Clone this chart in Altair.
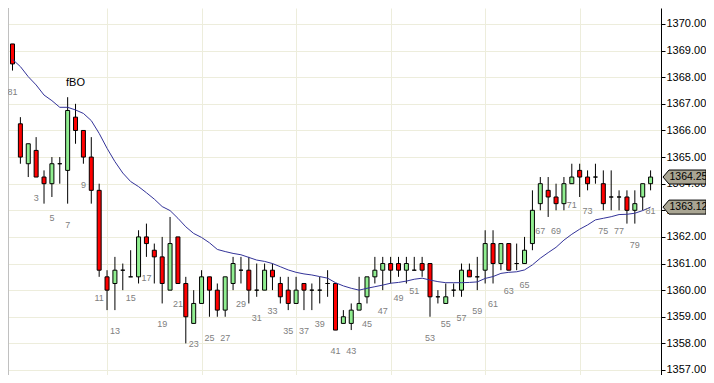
import altair as alt
import pandas as pd

bar_index = list(range(82))

opens = [1369.25, 1366.25, 1364.75, 1365.25, 1364.25, 1364.0, 1364.75, 1364.5, 1366.5, 1366.0,
         1365.0, 1363.75, 1360.5, 1360.25, 1360.75, 1360.5, 1360.5, 1362.0, 1361.5, 1361.25,
         1360.0, 1362.0, 1360.25, 1358.75, 1359.5, 1360.5, 1360.0, 1359.25, 1360.25, 1360.75,
         1360.75, 1360.0, 1360.0, 1360.75, 1360.25, 1360.0, 1359.5, 1360.25, 1360.0, 1360.0,
         1360.25, 1360.25, 1358.75, 1358.75, 1359.25, 1359.75, 1360.5, 1360.75, 1361.0, 1361.0,
         1360.75, 1360.75, 1361.0, 1361.0, 1359.75, 1359.5, 1360.0, 1360.0, 1360.75, 1360.5,
         1360.75, 1361.75, 1361.0, 1361.75, 1361.0, 1361.0, 1361.75, 1363.25, 1363.75, 1363.5,
         1363.25, 1364.0, 1364.5, 1364.25, 1364.25, 1364.0, 1363.5, 1363.5, 1363.5, 1363.0,
         1363.5, 1364.0]

highs = [1369.25, 1366.5, 1365.5, 1365.75, 1364.5, 1365.0, 1365.0, 1367.25, 1367.0, 1366.0,
         1365.75, 1364.0, 1360.75, 1361.25, 1361.0, 1361.5, 1362.25, 1362.5, 1361.75, 1362.0,
         1362.75, 1362.0, 1360.5, 1360.0, 1360.75, 1360.5, 1360.25, 1360.5, 1361.25, 1361.25,
         1361.25, 1361.0, 1361.0, 1361.0, 1360.5, 1360.5, 1360.5, 1360.25, 1360.25, 1360.5,
         1360.75, 1360.25, 1359.25, 1359.5, 1360.5, 1360.5, 1361.25, 1361.25, 1361.25, 1361.25,
         1361.25, 1361.25, 1361.25, 1361.0, 1360.0, 1360.25, 1360.25, 1361.0, 1361.0, 1361.25,
         1362.25, 1362.25, 1361.75, 1361.75, 1361.75, 1362.0, 1363.75, 1364.25, 1364.25, 1364.0,
         1364.25, 1364.75, 1364.75, 1364.5, 1364.75, 1364.5, 1364.5, 1363.75, 1363.75, 1363.75,
         1364.0, 1364.5]

lows = [1368.25, 1364.75, 1364.25, 1364.25, 1363.25, 1363.5, 1364.0, 1363.25, 1365.5, 1364.75,
        1363.25, 1360.5, 1359.25, 1359.25, 1360.0, 1360.5, 1360.25, 1361.25, 1360.25, 1359.5,
        1360.0, 1360.25, 1358.0, 1358.75, 1359.5, 1359.0, 1359.0, 1359.0, 1360.0, 1360.25,
        1359.5, 1359.75, 1360.0, 1360.0, 1359.5, 1359.25, 1359.5, 1359.25, 1359.25, 1359.5,
        1359.75, 1358.5, 1358.75, 1358.5, 1359.25, 1359.5, 1360.25, 1360.0, 1360.25, 1360.5,
        1360.25, 1360.75, 1360.5, 1359.0, 1359.5, 1359.5, 1359.75, 1359.75, 1360.5, 1360.0,
        1360.25, 1360.25, 1360.75, 1360.75, 1360.75, 1361.0, 1361.5, 1363.0, 1362.75, 1363.0,
        1363.0, 1364.0, 1363.5, 1363.75, 1364.0, 1363.0, 1363.0, 1363.0, 1362.5, 1362.5,
        1363.0, 1363.75]

closes = [1368.5, 1365.0, 1365.5, 1364.25, 1364.0, 1364.75, 1364.75, 1366.75, 1366.0, 1365.0,
          1363.75, 1360.75, 1360.0, 1360.75, 1360.75, 1360.5, 1362.0, 1361.75, 1361.25, 1360.25,
          1361.75, 1360.25, 1359.0, 1359.5, 1360.5, 1360.0, 1359.25, 1360.5, 1361.0, 1360.75,
          1360.0, 1360.0, 1360.75, 1360.5, 1359.75, 1359.5, 1360.0, 1360.0, 1360.0, 1360.0,
          1360.25, 1358.5, 1359.0, 1359.25, 1359.5, 1360.5, 1360.75, 1361.0, 1360.75, 1360.75,
          1361.0, 1360.75, 1360.75, 1359.75, 1359.75, 1359.75, 1360.0, 1360.75, 1360.5, 1360.5,
          1361.75, 1361.0, 1361.75, 1360.75, 1361.0, 1361.5, 1363.0, 1364.0, 1363.5, 1363.25,
          1364.0, 1364.25, 1364.25, 1364.0, 1364.25, 1363.25, 1363.5, 1363.5, 1363.0, 1363.25,
          1364.0, 1364.25]

ma = [1368.67, 1368.40, 1368.02, 1367.71, 1367.33, 1367.12, 1366.87, 1366.87, 1366.77, 1366.64,
      1366.37, 1365.89, 1365.33, 1364.83, 1364.40, 1364.08, 1363.89, 1363.66, 1363.42, 1363.14,
      1362.99, 1362.70, 1362.38, 1362.13, 1361.98, 1361.78, 1361.53, 1361.45, 1361.38, 1361.33,
      1361.23, 1361.13, 1361.08, 1361.00, 1360.88, 1360.76, 1360.67, 1360.61, 1360.57, 1360.51,
      1360.45, 1360.28, 1360.16, 1360.07, 1360.00, 1360.07, 1360.13, 1360.19, 1360.26, 1360.29,
      1360.34, 1360.41, 1360.45, 1360.38, 1360.32, 1360.28, 1360.28, 1360.28, 1360.29, 1360.31,
      1360.44, 1360.51, 1360.63, 1360.67, 1360.69, 1360.76, 1360.95, 1361.20, 1361.41, 1361.61,
      1361.88, 1362.10, 1362.29, 1362.45, 1362.64, 1362.70, 1362.76, 1362.84, 1362.85, 1362.89,
      1362.99, 1363.12]

label_bars = [0] + list(range(3, 82, 2))
label_texts = ["81"] + [str(i) for i in range(3, 82, 2)]
annot_bars = [8]
annot_texts = ["fBO"]
grid_bars = [12, 24, 36, 48, 60, 72]
y_ticks = list(range(1357, 1371))
tag_values = [closes[-1], ma[-1]]
tag_texts = ["1364.25", "1363.12"]

W, H = 653, 367

df = pd.DataFrame({"i": bar_index, "open": opens, "high": highs, "low": lows,
                   "close": closes, "ma": ma})
df["dir"] = ["up" if c > o else ("down" if c < o else "flat") for o, c in zip(opens, closes)]

lab = pd.DataFrame({"i": label_bars, "text": label_texts,
                    "low": [lows[i] for i in label_bars]})
ann = pd.DataFrame({"i": annot_bars, "text": annot_texts,
                    "high": [highs[i] for i in annot_bars]})
tags = pd.DataFrame({"v": tag_values, "t": tag_texts})
sess = pd.DataFrame({"s": [0]})

xs = alt.Scale(domain=[0.0625, 81.6875], nice=False, zero=False)
ys = alt.Scale(domain=[1356.812, 1370.601], nice=False, zero=False)

grid_col = "#EDEDDC"
x_axis = alt.Axis(values=grid_bars, grid=True, gridColor=grid_col, gridWidth=1,
                  labels=False, ticks=False, domain=False, title=None)
y_axis = alt.Axis(orient="right", values=y_ticks, format=".2f", grid=True,
                  gridColor=grid_col, gridWidth=1, domainColor="black", domainWidth=1,
                  tickColor="black", tickSize=4, labelFontSize=11, labelColor="black",
                  labelFont="Liberation Sans", labelPadding=1, title=None,
                  labelFlush=False, labelOverlap=False)


def X():
    return alt.X("i:Q", scale=xs, axis=x_axis)


def Y(field):
    return alt.Y(field, scale=ys, axis=y_axis)


base = alt.Chart(df)

sess_rule = alt.Chart(sess).mark_rule(color="#C0C0C0", strokeWidth=1).encode(
    x=alt.value(0.5), y=alt.value(0), y2=alt.value(H))

wicks = base.mark_rule(color="black", strokeWidth=1, clip=True).encode(
    x=X(), y=Y("low:Q"), y2="high:Q")

bodies = base.mark_bar(size=4, stroke="black", strokeWidth=1, clip=True).encode(
    x=X(), y=Y("open:Q"), y2="close:Q",
    fill=alt.Fill("dir:N", scale=alt.Scale(domain=["up", "down", "flat"],
                                           range=["#90EE90", "#FF0000", "#FFFFFF"]),
                  legend=None))

ma_line = base.mark_line(color="#333399", strokeWidth=1, clip=True).encode(
    x=X(), y=Y("ma:Q"))

nums = alt.Chart(lab).mark_text(fontSize=9, color="#808080", baseline="middle",
                                dy=21, font="Liberation Sans").encode(
    x=X(), y=Y("low:Q"), text="text:N")

fbo = alt.Chart(ann).mark_text(fontSize=11, color="black", baseline="middle",
                               dy=-21, font="Liberation Sans").encode(
    x=X(), y=Y("high:Q"), text="text:N")

tag_path = "M-1,0L-0.721,-0.326L1,-0.326L1,0.326L-0.721,0.326Z"
tag_box = alt.Chart(tags).mark_point(shape=tag_path, size=1849, filled=True,
                                     fill="#A9A593", stroke="black", strokeWidth=1,
                                     opacity=1).encode(
    x=alt.value(W + 23.5), y=Y("v:Q"))

tag_txt = alt.Chart(tags).mark_text(align="left", baseline="middle", fontSize=10.5,
                                    color="black", font="Liberation Sans").encode(
    x=alt.value(W + 8.5), y=Y("v:Q"), text="t:N")

chart = alt.layer(sess_rule, wicks, bodies, ma_line, nums, fbo, tag_box, tag_txt).properties(
    width=W, height=H,
    padding={"left": 0, "top": 0, "right": 45, "bottom": 0},
    autosize=alt.AutoSizeParams(type="none"),
    background="white",
).configure_view(stroke=None)

chart.save("out.html", embed_options={"renderer": "svg", "actions": False})
